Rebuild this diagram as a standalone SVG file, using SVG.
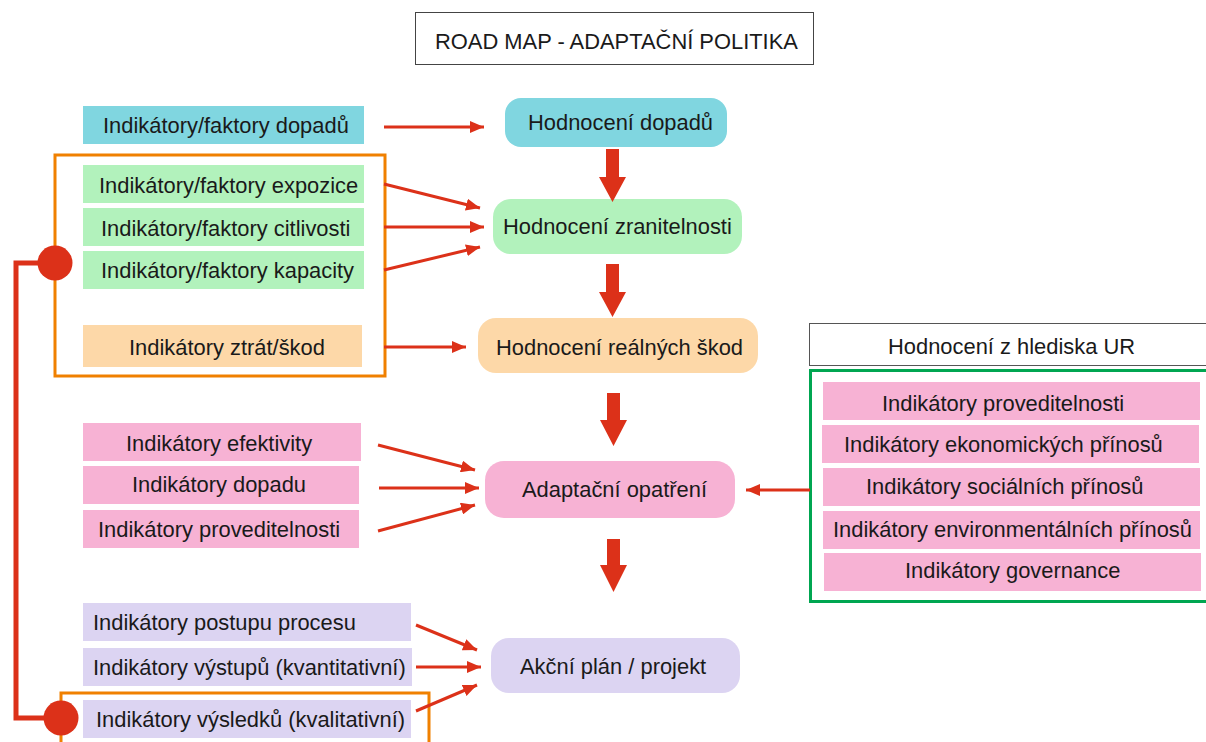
<svg xmlns="http://www.w3.org/2000/svg" width="1206" height="742" viewBox="0 0 1206 742">
<defs>
<style>
text{font-family:"Liberation Sans",Arial,sans-serif;font-size:21.9px;fill:#1a1a1a}
.cy{fill:#80d6e0}.gr{fill:#b2f2bc}.pe{fill:#fdd8a8}.pk{fill:#f7b2d4}.lv{fill:#dcd4f2}
.ln{stroke:#dc3119;stroke-width:3;fill:none;marker-end:url(#ah)}
.big{fill:#dc3119}
</style>
<marker id="ah" viewBox="0 0 14 12" refX="14" refY="6" markerWidth="14" markerHeight="12" markerUnits="userSpaceOnUse" orient="auto">
<path d="M0,0 L14,6 L0,12 z" fill="#dc3119"/>
</marker>
</defs>
<rect width="1206" height="742" fill="#fff"/>

<g id="title">
<rect x="415.5" y="12.5" width="398" height="52" fill="#fff" stroke="#444" stroke-width="1"/>
<text x="435" y="49">ROAD MAP - ADAPTAČNÍ POLITIKA</text>
</g>

<g id="frames">
<rect x="55" y="155" width="330" height="221" fill="none" stroke="#f08000" stroke-width="3"/>
<path d="M61,750 V693 H429 V750" fill="none" stroke="#f08000" stroke-width="3"/>
<rect x="810.5" y="370.5" width="410" height="231" fill="none" stroke="#00a651" stroke-width="3"/>
</g>

<g id="left-nodes">
<g id="n-faktory-dopadu"><rect class="cy" x="83" y="106" width="281" height="38"/><text x="103" y="133">Indikátory/faktory dopadů</text></g>
<g id="n-expozice"><rect class="gr" x="83" y="165" width="281" height="38"/><text x="99" y="193">Indikátory/faktory expozice</text></g>
<g id="n-citlivosti"><rect class="gr" x="83" y="208" width="281" height="38"/><text x="101" y="236">Indikátory/faktory citlivosti</text></g>
<g id="n-kapacity"><rect class="gr" x="83" y="251" width="281" height="38"/><text x="101" y="278">Indikátory/faktory kapacity</text></g>
<g id="n-ztrat"><rect class="pe" x="83" y="325" width="279" height="42"/><text x="129" y="355">Indikátory ztrát/škod</text></g>
<g id="n-efektivity"><rect class="pk" x="83" y="423" width="278" height="38"/><text x="126" y="451">Indikátory efektivity</text></g>
<g id="n-dopadu"><rect class="pk" x="83" y="466" width="276" height="38"/><text x="132" y="492">Indikátory dopadu</text></g>
<g id="n-provedit-l"><rect class="pk" x="83" y="510" width="276" height="38"/><text x="98" y="537">Indikátory proveditelnosti</text></g>
<g id="n-postupu"><rect class="lv" x="83" y="603" width="328" height="38"/><text x="93" y="630">Indikátory postupu procesu</text></g>
<g id="n-vystupu"><rect class="lv" x="83" y="648" width="329" height="38"/><text x="93" y="675">Indikátory výstupů (kvantitativní)</text></g>
<g id="n-vysledku"><rect class="lv" x="83" y="700" width="328" height="38"/><text x="96" y="727">Indikátory výsledků (kvalitativní)</text></g>
</g>

<g id="center-nodes">
<g id="c-dopadu"><rect class="cy" x="505" y="98" width="222" height="49" rx="16"/><text x="528" y="130">Hodnocení dopadů</text></g>
<g id="c-zranitelnosti"><rect class="gr" x="493" y="199" width="249" height="55" rx="18"/><text x="503" y="234">Hodnocení zranitelnosti</text></g>
<g id="c-skod"><rect class="pe" x="478" y="318" width="280" height="55" rx="18"/><text x="496" y="355">Hodnocení reálných škod</text></g>
<g id="c-adaptacni"><rect class="pk" x="485" y="461" width="250" height="57" rx="19"/><text x="522" y="497">Adaptační opatření</text></g>
<g id="c-akcni"><rect class="lv" x="491" y="638" width="249" height="55" rx="18"/><text x="520" y="674">Akční plán / projekt</text></g>
</g>

<g id="right-nodes">
<g id="r-header"><rect x="809.5" y="323.5" width="410" height="42" fill="#fff" stroke="#555" stroke-width="1"/><text x="888" y="354">Hodnocení z hlediska UR</text></g>
<g id="r-provedit"><rect class="pk" x="823" y="382" width="377" height="38"/><text x="882" y="411">Indikátory proveditelnosti</text></g>
<g id="r-ekonom"><rect class="pk" x="822" y="425" width="377" height="38"/><text x="844" y="452">Indikátory ekonomických přínosů</text></g>
<g id="r-social"><rect class="pk" x="823" y="468" width="377" height="38"/><text x="866" y="494">Indikátory sociálních přínosů</text></g>
<g id="r-envi"><rect class="pk" x="823" y="511" width="377" height="38"/><text x="833" y="537">Indikátory environmentálních přínosů</text></g>
<g id="r-gov"><rect class="pk" x="824" y="553" width="377" height="38"/><text x="905" y="578">Indikátory governance</text></g>
</g>

<g id="connectors">
<line class="ln" x1="384" y1="127" x2="484" y2="127"/>
<line class="ln" x1="384" y1="184" x2="480" y2="208"/>
<line class="ln" x1="384" y1="227" x2="484" y2="227"/>
<line class="ln" x1="384" y1="270" x2="480" y2="247"/>
<line class="ln" x1="384" y1="347" x2="466" y2="347"/>
<line class="ln" x1="378" y1="445" x2="475" y2="470"/>
<line class="ln" x1="379" y1="488" x2="479" y2="488"/>
<line class="ln" x1="378" y1="531" x2="475" y2="505"/>
<line class="ln" x1="416" y1="625" x2="477" y2="650"/>
<line class="ln" x1="416" y1="667" x2="481" y2="667"/>
<line class="ln" x1="416" y1="711" x2="477" y2="685"/>
<line class="ln" x1="810" y1="490" x2="746" y2="490"/>
<polygon class="big" points="606,149 619,149 619,177 626,177 612.5,202 599,177 606,177"/>
<polygon class="big" points="606,264 619,264 619,292 626,292 612.5,317 599,292 606,292"/>
<polygon class="big" points="607,393 620,393 620,420 627,420 613.5,446 600,420 607,420"/>
<polygon class="big" points="607,539 620,539 620,565 627,565 613.5,592 600,565 607,565"/>
<path d="M55,263 H16 V718 H61" fill="none" stroke="#dc3119" stroke-width="5"/>
<circle cx="55" cy="263" r="17.5" fill="#dc3119"/>
<circle cx="61" cy="718" r="17.5" fill="#dc3119"/>
</g>
</svg>
